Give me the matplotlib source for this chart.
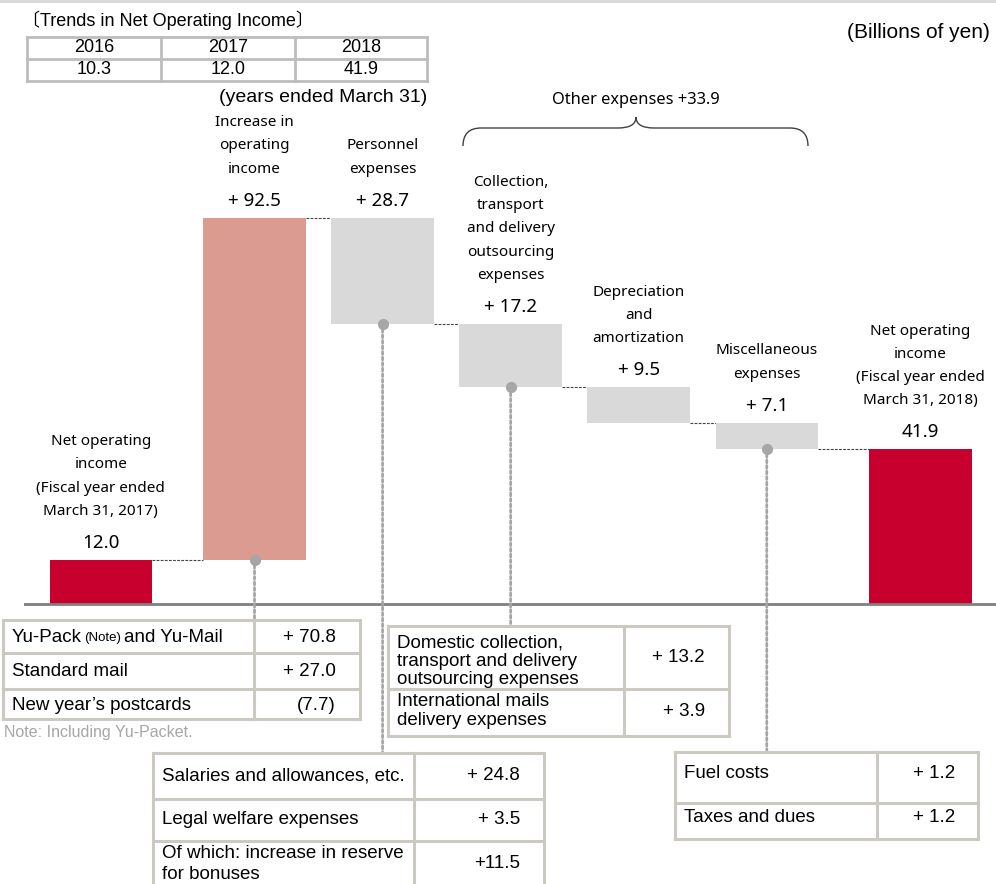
import matplotlib.pyplot as plt
import matplotlib.transforms as mtransforms
from matplotlib.lines import Line2D
from matplotlib.patches import ConnectionPatch, PathPatch, Rectangle
from matplotlib.path import Path

W, H = 996, 884

# ---- data (billions of yen) ----
trend_years = ["2016", "2017", "2018"]
trend_values = [10.3, 12.0, 41.9]

step_labels = [
    "Net operating\nincome\n(Fiscal year ended\nMarch 31, 2017)",
    "Increase in\noperating\nincome",
    "Personnel\nexpenses",
    "Collection,\ntransport\nand delivery\noutsourcing\nexpenses",
    "Depreciation\nand\namortization",
    "Miscellaneous\nexpenses",
    "Net operating\nincome\n(Fiscal year ended\nMarch 31, 2018)",
]
step_values = [12.0, 92.5, -28.7, -17.2, -9.5, -7.1, 41.9]
step_is_total = [True, False, False, False, False, False, True]
other_expenses = 33.9

revenue_items = ["Standard mail", "New year\u2019s postcards"]
revenue_values = ["+ 70.8", "+ 27.0", "(7.7)"]

outsourcing_items = ["Domestic collection,\ntransport and delivery\noutsourcing expenses",
                     "International mails\ndelivery expenses"]
outsourcing_values = ["+ 13.2", "+ 3.9"]

personnel_items = ["Salaries and allowances, etc.", "Legal welfare expenses",
                   "Of which: increase in reserve\nfor bonuses"]
personnel_values = ["+ 24.8", "+ 3.5", "+11.5"]

misc_items = ["Fuel costs", "Taxes and dues"]
misc_values = ["+ 1.2", "+ 1.2"]

# ---- style ----
RED = "#C8002D"
SALMON = "#DC9B91"
GREY = "#D9D9D9"
DOT = "#A6A6A6"
BORDER = "#CBC9C2"
LABEL_FONT = ["Noto Sans", "DejaVu Sans"]
TABLE_FONT = ["Liberation Sans", "Noto Sans CJK JP", "DejaVu Sans"]
TFS = 13.5  # table font size

fig = plt.figure(figsize=(W / 100, H / 100), dpi=100)


def fx(x):
    return x / W


def fy(y):
    return 1 - y / H


def ftext(x, y, s, **kw):
    kw.setdefault("family", TABLE_FONT)
    kw.setdefault("fontsize", TFS)
    kw.setdefault("va", "center")
    return fig.text(fx(x), fy(y), s, **kw)


def fline(xs, ys, color=BORDER, lw=2.2):
    fig.add_artist(Line2D([fx(v) for v in xs], [fy(v) for v in ys], color=color, lw=lw))


def grid(x0, x1, splits, rows, color=BORDER, lw=2.2):
    for y in rows:
        fline([x0, x1], [y, y], color, lw)
    for x in [x0] + splits + [x1]:
        fline([x, x], [rows[0], rows[-1]], color, lw)


# top strip
fig.add_artist(Rectangle((0, fy(3)), 1, 3 / H, transform=fig.transFigure, color="#D9D9D9", lw=0))

# ---- waterfall ----
ax = fig.add_axes([fx(24), fy(608), 1 - fx(24), (608 - 100) / H])
xpos = [0, 1.2, 2.2, 3.2, 4.2, 5.2, 6.4]
width = 0.8
colors = [RED, SALMON, GREY, GREY, GREY, GREY, RED]

bottoms, heights, tops, levels = [], [], [], []
run = 0.0
for v, tot in zip(step_values, step_is_total):
    if tot:
        b, h = 0.0, v
        run = v
    elif v >= 0:
        b, h = run, v
        run += v
    else:
        b, h = run + v, -v
        run += v
    bottoms.append(b)
    heights.append(h)
    tops.append(b + h)
    levels.append(run)

ax.bar(xpos, heights, width, bottom=bottoms, color=colors, lw=0, zorder=2)
ax.set_xlim(-0.6, 6.99)
ax.set_ylim(-1, 136.3)
ax.axis("off")
ax.axhline(0, color="#808080", lw=2, zorder=3)

# dashed connectors
for i in range(len(xpos) - 1):
    ax.plot([xpos[i] + width / 2, xpos[i + 1] - width / 2], [levels[i], levels[i]],
            color="#444444", lw=0.8, ls=(0, (2.5, 1.2)), zorder=1)

# labels
for i, (x, top) in enumerate(zip(xpos, tops)):
    v = step_values[i]
    txt = f"{v:.1f}" if step_is_total[i] else f"+ {abs(v):.1f}"
    ax.annotate(txt, (x, top), xytext=(0, 17), textcoords="offset pixels",
                ha="center", va="center", fontsize=13.5, family=LABEL_FONT)
    ax.annotate(step_labels[i], (x, top), xytext=(0, 41), textcoords="offset pixels",
                ha="center", va="bottom", fontsize=11, family=LABEL_FONT,
                linespacing=1.75, annotation_clip=False)

# dots and dotted leaders to the detail tables
blend = mtransforms.blended_transform_factory(ax.transData, fig.transFigure)
for idx, target in [(1, 620), (2, 753), (3, 626), (5, 752)]:
    ax.plot(xpos[idx], bottoms[idx], "o", color=DOT, ms=7, zorder=4, clip_on=False)
    fig.add_artist(ConnectionPatch((xpos[idx], bottoms[idx]), (xpos[idx], fy(target)),
                                   coordsA=ax.transData, coordsB=blend,
                                   color=DOT, lw=2, ls=(0, (1, 1))))

# brace for other expenses
bx = [(463, 146), (463, 128), (481, 128), (618, 128), (636, 128), (636, 117),
      (636, 128), (654, 128), (790, 128), (808, 128), (808, 146)]
codes = [Path.MOVETO, Path.CURVE3, Path.CURVE3, Path.LINETO, Path.CURVE3, Path.CURVE3,
         Path.CURVE3, Path.CURVE3, Path.LINETO, Path.CURVE3, Path.CURVE3]
brace = Path([(fx(a), fy(b)) for a, b in bx], codes)
fig.add_artist(PathPatch(brace, transform=fig.transFigure, fc="none", ec="#404040", lw=1))
ftext(636, 100, f"Other expenses +{other_expenses:.1f}", ha="center", family=LABEL_FONT, fontsize=11.8)

# ---- header ----
ftext(990, 32, "(Billions of yen)", ha="right", fontsize=15)
ftext(22, 20, "\u3014Trends in Net Operating Income\u3015", ha="left", fontsize=13)
grid(27, 427, [161, 295], [37, 59, 81], color="#BDBDBD", lw=2)
for j, (yr, val) in enumerate(zip(trend_years, trend_values)):
    cx = [94, 228, 361][j]
    ftext(cx, 48, yr, ha="center", fontsize=13)
    ftext(cx, 70, f"{val:.1f}", ha="center", fontsize=13)
ftext(427, 97, "(years ended March 31)", ha="right", fontsize=14)

# ---- revenue table ----
grid(3, 360, [254], [620, 653, 689, 719])
t1 = ftext(12, 638, "Yu-Pack", ha="left")
t2 = ax.annotate("(Note)", (1, 0), xycoords=t1, xytext=(2, 2), textcoords="offset pixels",
                 va="bottom", ha="left", fontsize=9.5, family=TABLE_FONT, annotation_clip=False)
ax.annotate("and Yu-Mail", (1, 0), xycoords=t2, xytext=(3, -2), textcoords="offset pixels",
            va="bottom", ha="left", fontsize=TFS, family=TABLE_FONT, annotation_clip=False)
for item, y in zip(revenue_items, [672, 705]):
    ftext(12, y, item, ha="left")
for val, y in zip(revenue_values, [638, 672, 705]):
    ftext(336, y, val, ha="right")
ftext(4, 733, "Note: Including Yu-Packet.", ha="left", fontsize=11.5, color="#A6A6A6")

# ---- outsourcing table ----
grid(388, 729, [624], [626, 689, 736])
for item, val, y, vy in zip(outsourcing_items, outsourcing_values, [661, 711], [658, 712]):
    ftext(397, y, item, ha="left", linespacing=1.1)
    ftext(705, vy, val, ha="right")

# ---- personnel table ----
grid(153, 544, [414], [753, 799, 841, 900])
for item, val, y, vy in zip(personnel_items, personnel_values, [776, 820, 864], [776, 820, 863]):
    ftext(162, y, item, ha="left", linespacing=1.3)
    ftext(520, vy, val, ha="right")

# ---- misc table ----
grid(675, 978, [877], [752, 803, 839])
for item, val, y in zip(misc_items, misc_values, [773, 818]):
    ftext(684, y, item, ha="left")
    ftext(955, y, val, ha="right")

fig.savefig("out.png", dpi=100)
